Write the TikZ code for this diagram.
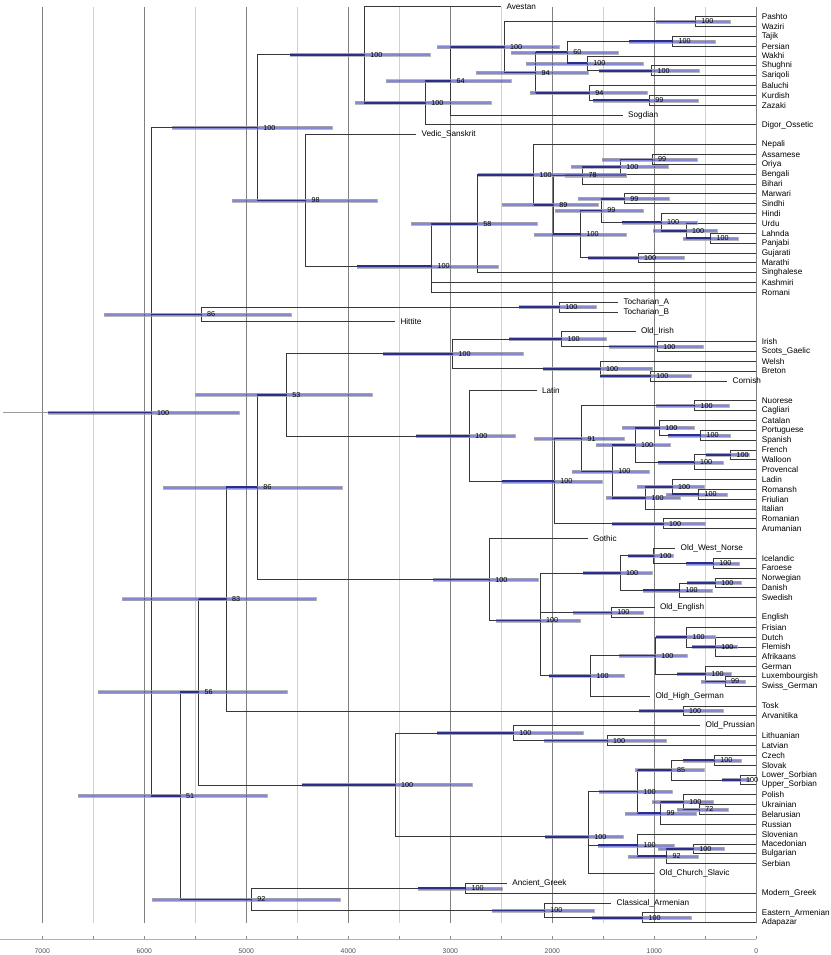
\documentclass[tikz,border=0pt]{standalone}
\usepackage{fontspec}
\setmainfont{Liberation Sans}
\definecolor{barfill}{RGB}{58,62,190}
\definecolor{bardark}{RGB}{42,46,140}
\definecolor{treeline}{RGB}{55,55,55}
\tikzset{
 tree/.style={draw=treeline, line width=0.85pt},
 hpd/.style={fill=barfill, fill opacity=0.62, draw=black!35, draw opacity=0.8, line width=0.3pt},
 hpddark/.style={draw=bardark, line width=1.7pt},
 leaf/.style={anchor=west, inner xsep=5.5pt, inner ysep=0pt, outer sep=0pt, font=\fontsize{8.2}{9}\selectfont, text=black},
 sup/.style={anchor=west, inner sep=0pt, xshift=5.8pt, font=\fontsize{7.2}{8}\selectfont},
 gridd/.style={draw=black!50, line width=0.7pt},
 gridl/.style={draw=black!18, line width=0.7pt},
 axislab/.style={font=\fontsize{6.8}{7}\selectfont, text=black!70, inner sep=0pt},
}
\begin{document}
\begin{tikzpicture}[x=1pt,y=-1pt]
\useasboundingbox (0,0) rectangle (830,955);
% grid
\foreach \yr in {500,1500,2500,3500,4500,5500,6500}
  \draw[gridl] ({756.3-0.102*\yr},7) -- ({756.3-0.102*\yr},922.5);
\foreach \yr in {0,1000,2000,3000,4000,5000,6000,7000}
  \draw[gridd] ({756.3-0.102*\yr},7) -- ({756.3-0.102*\yr},922.5);
% axis
\draw[draw=black!30, line width=1.5pt] (0,939.3) -- (756.3,939.3);
\foreach \yr in {0,500,1000,1500,2000,2500,3000,3500,4000,4500,5000,5500,6000,6500,7000}
  \draw[black!45, line width=0.5pt] ({756.3-0.102*\yr},935.8) -- ({756.3-0.102*\yr},938.6);
\foreach \yr in {0,1000,2000,3000,4000,5000,6000,7000}
  \node[axislab] at ({756.3-0.102*\yr},950.7) {\yr};
% leaves
\foreach \nm/\k/\xe/\txt in {
avestan/0/501/Avestan, pashto/1/756.3/Pashto, waziri/2/756.3/Waziri, tajik/3/756.3/Tajik,
persian/4/756.3/Persian, wakhi/5/756.3/Wakhi, shughni/6/756.3/Shughni, sariqoli/7/756.3/Sariqoli,
baluchi/8/756.3/Baluchi, kurdish/9/756.3/Kurdish, zazaki/10/756.3/Zazaki, sogdian/11/622.7/Sogdian,
digor/12/756.3/Digor\_Ossetic, vedic/13/416/Vedic\_Sanskrit, nepali/14/756.3/Nepali,
assamese/15/756.3/Assamese, oriya/16/756.3/Oriya, bengali/17/756.3/Bengali, bihari/18/756.3/Bihari,
marwari/19/756.3/Marwari, sindhi/20/756.3/Sindhi, hindi/21/756.3/Hindi, urdu/22/756.3/Urdu,
lahnda/23/756.3/Lahnda, panjabi/24/756.3/Panjabi, gujarati/25/756.3/Gujarati, marathi/26/756.3/Marathi,
singhalese/27/756.3/Singhalese, kashmiri/28/756.3/Kashmiri, romani/29/756.3/Romani,
tochA/30/618/Tocharian\_A, tochB/31/618/Tocharian\_B, hittite/32/395/Hittite,
oldirish/33/635.5/Old\_Irish, irish/34/756.3/Irish, scots/35/756.3/Scots\_Gaelic, welsh/36/756.3/Welsh,
breton/37/756.3/Breton, cornish/38/727.2/Cornish, latin/39/536.5/Latin, nuorese/40/756.3/Nuorese,
cagliari/41/756.3/Cagliari, catalan/42/756.3/Catalan, portuguese/43/756.3/Portuguese,
spanish/44/756.3/Spanish, french/45/756.3/French, walloon/46/756.3/Walloon, provencal/47/756.3/Provencal,
ladin/48/756.3/Ladin, romansh/49/756.3/Romansh, friulian/50/756.3/Friulian, italian/51/756.3/Italian,
romanian/52/756.3/Romanian, arumanian/53/756.3/Arumanian, gothic/54/587.5/Gothic,
own/55/675.2/Old\_West\_Norse, icelandic/56/756.3/Icelandic, faroese/57/756.3/Faroese,
norwegian/58/756.3/Norwegian, danish/59/756.3/Danish, swedish/60/756.3/Swedish,
oldenglish/61/654.5/Old\_English, english/62/756.3/English, frisian/63/756.3/Frisian,
dutch/64/756.3/Dutch, flemish/65/756.3/Flemish, afrikaans/66/756.3/Afrikaans, german/67/756.3/German,
lux/68/756.3/Luxembourgish, swiss/69/756.3/Swiss\_German, ohg/70/650/Old\_High\_German,
tosk/71/756.3/Tosk, arvanitika/72/756.3/Arvanitika, oldprussian/73/700.2/Old\_Prussian,
lithuanian/74/756.3/Lithuanian, latvian/75/756.3/Latvian, czech/76/756.3/Czech, slovak/77/756.3/Slovak,
lsorb/78/756.3/Lower\_Sorbian, usorb/79/756.3/Upper\_Sorbian, polish/80/756.3/Polish,
ukrainian/81/756.3/Ukrainian, belarusian/82/756.3/Belarusian, russian/83/756.3/Russian,
slovenian/84/756.3/Slovenian, macedonian/85/756.3/Macedonian, bulgarian/86/756.3/Bulgarian,
serbian/87/756.3/Serbian, ocs/88/653.8/Old\_Church\_Slavic, agreek/89/506.8/Ancient\_Greek,
mgreek/90/756.3/Modern\_Greek, carm/91/611.2/Classical\_Armenian, earm/92/756.3/Eastern\_Armenian,
adapazar/93/756.3/Adapazar}
  \node[leaf] (\nm) at (\xe,{6.7+9.85*\k}) {\txt};
% internal nodes: name/x/y/support/barleft/barright/parent-x
\def\inodes{pw/695.3/21.475/100/656/730/504, tp/672.7/41.175/100/629/715/567.3,
ss/651.7/70.725/100/599.3/699.3/587.3, wss/587.3/63.34/100/526/642.7/567.3,
n60/567.3/52.26/60/511/617.7/535.5, kz/649.3/100.275/99/592.7/697.7/589.3,
bkz/589.3/92.89/94/530/646.7/535.5, n94/535.5/72.575/94/476/587.7/504,
n504/504/47.025/100/437.3/559.3/450.7, n64/450.7/81.04/64/386/510.7/425.3,
n425/425.3/102.97/100/355/490.7/364.3, iran/364.3/54.835/100/290/430/257.3,
ao/652/159.375/99/602.3/696.7/620.3, aob/620.3/166.76/100/571/667.7/582.7,
n78/582.7/175.38/78/565/626/553.3, ms/624.3/198.775/99/577.7/669.3/601.3,
lp/710.7/238.175/100/682.7/737.7/686, ulp/686/230.79/100/653.3/716.7/661,
hulp/661/222.17/100/621.7/696.7/601.3, n99b/601.3/210.47/99/555/643.3/580.7,
gm/638/257.875/100/588.3/683.7/580.7, n100c/580.7/234.17/100/534.3/625.7/553.3,
n89/553.3/204.78/89/502.3/598.3/533.7, nX/533.7/174.69/100/478/626/477.3,
n58/477.3/223.67/58/411/537.3/431.7, n432/431.7/266.17/100/357.3/497.7/305.5,
indic/305.5/200.46/98/232.3/376.7/257.3, indoiran/257.3/127.65/100/172.3/331.7/151,
toch/559.3/307.125/100/519/595.7/201, anat/201/314.51/86/104/290.7/151,
isg/657.3/346.525/100/609.3/703.3/561.7, goid/561.7/339.14/100/509/605.7/452.7,
bc/650.3/376.075/100/600/690.7/600, bryth/600/368.69/100/543.3/652.3/452.7,
celtic/452.7/353.91/100/383.3/523.3/286.3, sard/694.7/405.625/100/656/729.3/581.7,
ps/700.7/435.175/100/667.7/729.7/659.3, cps/659.3/427.79/100/622.3/694.3/635,
fw/730.7/454.875/100/705.7/749.3/694, fwp/694/462.26/100/658.3/722.7/635,
n635/635/445.03/100/595.7/670.3/612.3, rf/698.7/494.275/100/666.3/726.7/672,
lrf/672/486.89/100/637.3/704/645.7, lrfi/645.7/497.97/100/605.7/680/612.3,
n612/612.3/471.5/100/571.7/649/581.7, n91/581.7/438.56/91/534.3/623.7/554.3,
ra/663/523.825/100/612.3/705/554.3, romance/554.3/481.19/100/502.3/601.7/469.3,
italic/469.3/436.02/100/415.7/515/286.3, n53/286.3/394.97/53/195.3/372.3/257.3,
ifa/713.3/563.225/100/686/739.3/653.3, wn/653.3/555.84/100/628.3/673.3/620,
nd/715.3/582.925/100/687.3/740.7/679.7, en/679.7/590.31/100/643.3/711.7/620,
nordic/620/573.08/100/583.3/652.3/540, oee/611.3/612.475/100/573.3/643.3/540,
dfa/715.3/646.95/100/692.3/737.3/686.7, fdfa/686.7/637.1/100/656/715/655.3,
lsg/725/681.425/99/700.7/745.3/705.7, glsg/705.7/674.04/100/677.3/730.7/655.3,
n655/655.3/655.57/100/619.3/687.3/590.7, n591/590.7/675.89/100/549.3/624.3/540,
n540/540/620.48/100/496/580/489.3, germanic/489.3/579.54/100/433.3/537.7/257.3,
n86b/257.3/487.26/86/162.7/341.7/226, alb/683/710.975/100/639.3/723.3/226,
n83/226/599.12/83/121.7/315.7/198.7, ll/607/740.525/100/544/665.7/513.3,
baltic/513.3/733.14/100/436.7/582.7/395, cs/714.3/760.225/100/683.3/740.7/671,
sorb/740/779.925/100/721.7/750/671, wsl/671/770.08/85/635/704/637.7,
ub/699.3/809.475/72/676.7/728.3/683.3, pub/683.3/802.09/100/652.3/712.7/660.7,
n99s/660.7/813.17/99/625/696/637.7, wes/637.7/791.63/100/599.3/671.7/588.3,
mb/693.3/848.875/100/658.3/724/666.7, mbs/666.7/856.26/92/628.3/698.3/637.7,
ssl/637.7/845.18/100/598.3/674/588.3, slavic/588.3/836.77/100/545.3/623.3/395,
bsl/395/784.96/100/301.7/471.7/198.7, n56/198.7/692.04/56/98.3/286.7/180,
greek/465.7/888.275/100/417.7/501.7/251.3, ea/642.7/917.825/100/591.7/690.7/544.3,
arm/544.3/910.44/100/492.3/593.7/251.3, n92/251.3/899.36/92/152.3/340/180,
n51/180/795.7/51/78.3/266.7/151, root/151/412.62/100/48/239/2.7}
\foreach \n/\x/\y/\s/\a/\b/\px in \inodes
  \coordinate (\n) at (\x,\y);
\coordinate (stem) at (2.7,412.62);
% branches
\draw[tree, draw=black!40] (stem) -- (root);
\foreach \p/\c in {
pw/pashto, pw/waziri, tp/tajik, tp/persian, ss/shughni, ss/sariqoli, wss/wakhi, wss/ss, n60/tp, n60/wss,
kz/kurdish, kz/zazaki, bkz/baluchi, bkz/kz, n94/n60, n94/bkz, n504/pw, n504/n94, n64/n504, n64/sogdian,
n425/n64, n425/digor, iran/avestan, iran/n425,
ao/assamese, ao/oriya, aob/ao, aob/bengali, n78/aob, n78/bihari, ms/marwari, ms/sindhi, lp/lahnda, lp/panjabi,
ulp/urdu, ulp/lp, hulp/hindi, hulp/ulp, n99b/ms, n99b/hulp, gm/gujarati, gm/marathi, n100c/n99b, n100c/gm,
n89/n78, n89/n100c, nX/nepali, nX/n89, n58/nX, n58/singhalese, n432/n58, n432/kashmiri, n432/romani,
indic/vedic, indic/n432, indoiran/iran, indoiran/indic,
toch/tochA, toch/tochB, anat/toch, anat/hittite,
isg/irish, isg/scots, goid/oldirish, goid/isg, bc/breton, bc/cornish, bryth/welsh, bryth/bc, celtic/goid, celtic/bryth,
sard/nuorese, sard/cagliari, ps/portuguese, ps/spanish, cps/catalan, cps/ps, fw/french, fw/walloon, fwp/fw,
fwp/provencal, n635/cps, n635/fwp, rf/romansh, rf/friulian, lrf/ladin, lrf/rf, lrfi/lrf, lrfi/italian,
n612/n635, n612/lrfi, n91/sard, n91/n612, ra/romanian, ra/arumanian, romance/n91, romance/ra,
italic/latin, italic/romance, n53/celtic, n53/italic,
ifa/icelandic, ifa/faroese, wn/own, wn/ifa, nd/norwegian, nd/danish, en/nd, en/swedish, nordic/wn, nordic/en,
oee/oldenglish, oee/english, dfa/dutch, dfa/flemish, dfa/afrikaans, fdfa/frisian, fdfa/dfa, lsg/lux, lsg/swiss,
glsg/german, glsg/lsg, n655/fdfa, n655/glsg, n591/n655, n591/ohg, n540/nordic, n540/oee, n540/n591,
germanic/gothic, germanic/n540, n86b/n53, n86b/germanic,
alb/tosk, alb/arvanitika, n83/n86b, n83/alb,
ll/lithuanian, ll/latvian, baltic/oldprussian, baltic/ll, cs/czech, cs/slovak, sorb/lsorb, sorb/usorb,
wsl/cs, wsl/sorb, ub/ukrainian, ub/belarusian, pub/polish, pub/ub, n99s/pub, n99s/russian, wes/wsl, wes/n99s,
mb/macedonian, mb/bulgarian, mbs/mb, mbs/serbian, ssl/slovenian, ssl/mbs, slavic/wes, slavic/ssl, slavic/ocs,
bsl/baltic, bsl/slavic, n56/n83, n56/bsl,
greek/agreek, greek/mgreek, ea/earm, ea/adapazar, arm/carm, arm/ea, n92/greek, n92/arm,
n51/n56, n51/n92, root/indoiran, root/anat, root/n51}
  \draw[tree] (\p) |- (\c);
% HPD bars: light bar, with the stretch crossed by the incoming branch in dark blue
\foreach \n/\x/\y/\s/\a/\b/\px in \inodes {
  \draw[hpd] (\a,{\y-1.5}) rectangle (\b,{\y+1.5});
  \draw[hpddark] ({max(\a,\px)},\y) -- (\n);
}
% support values
\foreach \n/\x/\y/\s/\a/\b/\px in \inodes
  \node[sup] at (\n) {\s};
\end{tikzpicture}
\end{document}
